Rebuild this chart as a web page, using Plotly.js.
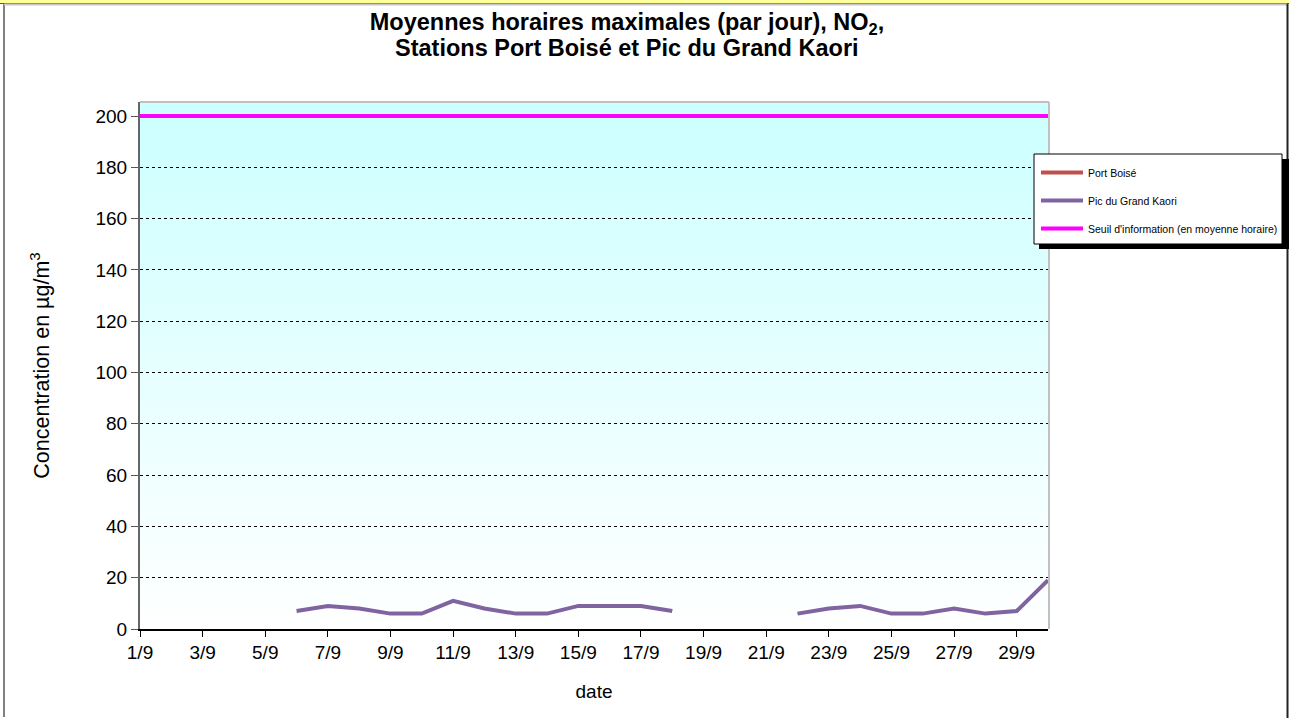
<!DOCTYPE html>
<html>
<head>
<meta charset="utf-8">
<script src="https://cdn.plot.ly/plotly-3.0.1.min.js"></script>
<style>html,body{margin:0;padding:0;background:#fff;}#chart{width:1289px;height:718px;}</style>
</head>
<body>
<div id="chart"></div>
<script>
// ---- data ----
var days = [1,2,3,4,5,6,7,8,9,10,11,12,13,14,15,16,17,18,19,20,21,22,23,24,25,26,27,28,29,30];
var portBoise = [null,null,null,null,null,null,null,null,null,null,null,null,null,null,null,null,null,null,null,null,null,null,null,null,null,null,null,null,null,null];
var picKaori = [null,null,null,null,null,7,9,8,6,6,11,8,6,6,9,9,9,7,null,null,null,6,8,9,6,6,8,6,7,19];
var seuil = [200,200,200,200,200,200,200,200,200,200,200,200,200,200,200,200,200,200,200,200,200,200,200,200,200,200,200,200,200,200];
var tickVals = [1,3,5,7,9,11,13,15,17,19,21,23,25,27,29];
var tickText = ["1/9","3/9","5/9","7/9","9/9","11/9","13/9","15/9","17/9","19/9","21/9","23/9","25/9","27/9","29/9"];
var yTicks = [0,20,40,60,80,100,120,140,160,180,200];
var seriesNames = ["Port Boisé","Pic du Grand Kaori","Seuil d'information (en moyenne horaire)"];
var titleLine1 = 'Moyennes horaires maximales (par jour), NO<sub>2</sub>,';
var titleLine2 = 'Stations Port Boisé et Pic du Grand Kaori';

// ---- geometry helpers (layout only) ----
var W = 1289, H = 718;
var L = 140, R = 1048, T = 102, B = 629;
function px(x){ return (x - L) / (R - L); }
function py(y){ return (B - y) / (B - T); }

var grad = 'data:image/svg+xml;utf8,' + encodeURIComponent(
 '<svg xmlns="http://www.w3.org/2000/svg" width="100" height="100" preserveAspectRatio="none">' +
 '<defs><linearGradient id="g" x1="0" y1="0" x2="0" y2="1">' +
 '<stop offset="0" stop-color="#ccffff"/><stop offset="1" stop-color="#ffffff"/></linearGradient></defs>' +
 '<rect width="100" height="100" fill="url(#g)"/></svg>');

var traces = [
 {x: days, y: portBoise, name: seriesNames[0], type: 'scatter', mode: 'lines',
  line: {color: '#c0504d', width: 4}, legendgroup: 'a', connectgaps: false},
 {x: days, y: picKaori, name: seriesNames[1], type: 'scatter', mode: 'lines',
  line: {color: '#8064a2', width: 4}, legendgroup: 'b', connectgaps: false},
 {x: days, y: seuil, name: seriesNames[2], type: 'scatter', mode: 'lines',
  line: {color: '#ff00ff', width: 4}, legendgroup: 'c'}
];

var font = 'Liberation Sans, Arial, sans-serif';

var layout = {
 width: W, height: H,
 margin: {l: L, r: W - R, t: T, b: H - B, pad: 0, autoexpand: false},
 paper_bgcolor: '#ffffff',
 plot_bgcolor: 'rgba(0,0,0,0)',
 font: {family: font, size: 19, color: '#000'},
 showlegend: true,
 title: {
  text: '<b>' + titleLine1 + '</b>',
  font: {family: font, size: 23.5, color: '#000'},
  x: 627 / W, xref: 'container', xanchor: 'center',
  y: 1 - 22 / H, yref: 'container', yanchor: 'middle'
 },
 annotations: [{
  text: '<b>' + titleLine2 + '</b>', showarrow: false,
  xref: 'paper', yref: 'paper', x: px(627), y: py(48), xanchor: 'center', yanchor: 'middle',
  font: {family: font, size: 23.5, color: '#000'}
 }],
 xaxis: {
  range: [1, 30], type: 'linear',
  tickvals: tickVals, ticktext: tickText,
  ticks: 'outside', ticklen: 6, tickcolor: '#000', tickwidth: 1,
  showline: true, linecolor: '#000', linewidth: 1.5,
  showgrid: false, zeroline: false,
  tickfont: {family: font, size: 19, color: '#000'},
  title: {text: 'date', font: {family: font, size: 19, color: '#000'}, standoff: 22}
 },
 yaxis: {
  range: [0, 205.5],
  tickvals: yTicks,
  ticks: 'outside', ticklen: 7, tickcolor: '#555', tickwidth: 1,
  showline: true, linecolor: '#666', linewidth: 2,
  showgrid: true, gridcolor: '#000', gridwidth: 1, griddash: 'dot',
  zeroline: false,
  tickfont: {family: font, size: 19, color: '#000'},
  title: {text: 'Concentration en µg/m<sup>3</sup>', font: {family: font, size: 21.5, color: '#000'}, standoff: 40}
 },
 legend: {
  xref: 'container', yref: 'container',
  x: 1036 / W, y: 1 - 158 / H, xanchor: 'left', yanchor: 'top',
  bgcolor: 'rgba(0,0,0,0)', borderwidth: 0,
  font: {family: font, size: 10.5, color: '#000'},
  itemwidth: 42,
  traceorder: 'grouped', tracegroupgap: 9
 },
 images: [{
  source: grad, xref: 'paper', yref: 'paper', x: 0, y: 1, sizex: 1, sizey: 1,
  sizing: 'stretch', xanchor: 'left', yanchor: 'top', layer: 'below'
 }],
 shapes: [
  {type: 'rect', xref: 'paper', yref: 'paper', x0: px(0), x1: px(W), y0: py(0), y1: py(3),
   fillcolor: '#ffff99', line: {width: 0}, layer: 'below'},
  {type: 'line', xref: 'paper', yref: 'paper', x0: px(0), x1: px(W), y0: py(3.5), y1: py(3.5),
   line: {color: '#555', width: 1}},
  {type: 'line', xref: 'paper', yref: 'paper', x0: px(4), x1: px(4), y0: py(4), y1: py(717),
   line: {color: '#808080', width: 2}},
  {type: 'line', xref: 'paper', yref: 'paper', x0: px(4), x1: px(1287), y0: py(4.5), y1: py(4.5),
   line: {color: '#c8c8c8', width: 2}},
  {type: 'line', xref: 'paper', yref: 'paper', x0: px(1287.5), x1: px(1287.5), y0: py(4), y1: py(718),
   line: {color: '#222', width: 2}},
  {type: 'line', xref: 'paper', yref: 'paper', x0: 0, x1: px(1049), y0: 1, y1: 1,
   line: {color: '#c0c0c0', width: 2}},
  {type: 'line', xref: 'paper', yref: 'paper', x0: px(1049), x1: px(1049), y0: 0, y1: 1,
   line: {color: '#c0c0c0', width: 2}},
  {type: 'rect', xref: 'paper', yref: 'paper', x0: px(1039), x1: px(1289), y0: py(159), y1: py(249),
   fillcolor: '#000', line: {width: 0}},
  {type: 'rect', xref: 'paper', yref: 'paper', x0: px(1034), x1: px(1282), y0: py(154), y1: py(244),
   fillcolor: '#fff', line: {color: '#000', width: 1}}
 ]
};

Plotly.newPlot('chart', traces, layout, {displayModeBar: false, staticPlot: true});
</script>
</body>
</html>
